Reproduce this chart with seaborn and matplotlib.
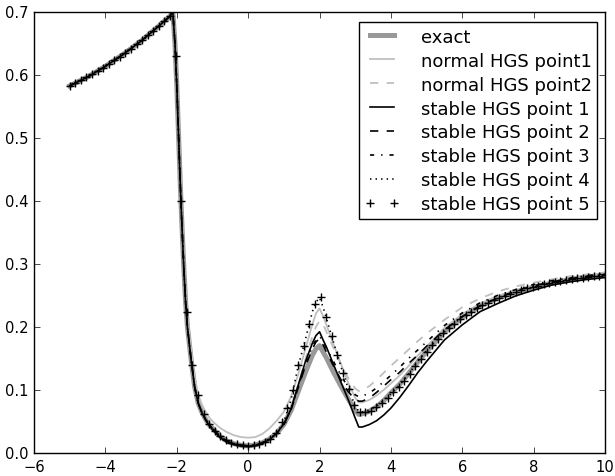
import numpy as np
import matplotlib
matplotlib.use("Agg")
import matplotlib.pyplot as plt
import seaborn as sns

plt.style.use("classic")
plt.rcParams["figure.facecolor"] = "white"
plt.rcParams["savefig.facecolor"] = "white"
plt.rcParams["font.family"] = ["DejaVu Sans"]

x_line = [-5, -4.5, -4, -3.5, -3, -2.5, -2.3, -2.2, -2.11, -2.05, -2.0, -1.95, -1.9, -1.85,
          -1.8, -1.75, -1.7, -1.6, -1.5, -1.4, -1.3, -1.2, -1.1, -1.0, -0.8, -0.6, -0.4, -0.2,
          0, 0.2, 0.4, 0.6, 0.8, 1.0, 1.2, 1.4, 1.6, 1.8, 1.9, 2.0, 2.1, 2.2, 2.4, 2.6, 2.8,
          3.0, 3.1, 3.2, 3.4, 3.6, 3.8, 4.0, 4.25, 4.5, 4.75, 5.0, 5.5, 6.0, 6.5, 7.0, 7.5,
          8.0, 8.5, 9.0, 9.5, 10.0]

y_exact = [0.583, 0.597, 0.614, 0.633, 0.654, 0.678, 0.688, 0.693, 0.700, 0.650, 0.585,
           0.505, 0.425, 0.355, 0.292, 0.238, 0.200, 0.150, 0.106, 0.080, 0.066, 0.055,
           0.046, 0.040, 0.028, 0.020, 0.0155, 0.013, 0.012, 0.0135, 0.017, 0.023, 0.032,
           0.046, 0.068, 0.098, 0.128, 0.156, 0.166, 0.171, 0.161, 0.151, 0.128, 0.107,
           0.087, 0.068, 0.062, 0.063, 0.067, 0.074, 0.084, 0.096, 0.110, 0.127, 0.145,
           0.162, 0.193, 0.216, 0.234, 0.247, 0.256, 0.264, 0.270, 0.276, 0.280, 0.283]

y_normal1 = [0.583, 0.597, 0.614, 0.633, 0.654, 0.678, 0.688, 0.693, 0.700, 0.655, 0.592,
             0.515, 0.437, 0.368, 0.305, 0.252, 0.213, 0.165, 0.121, 0.094, 0.078, 0.067,
             0.058, 0.051, 0.041, 0.034, 0.029, 0.026, 0.025, 0.026, 0.031, 0.040, 0.052,
             0.066, 0.090, 0.125, 0.165, 0.205, 0.222, 0.230, 0.218, 0.203, 0.172, 0.142,
             0.113, 0.088, 0.081, 0.081, 0.085, 0.092, 0.101, 0.111, 0.124, 0.139, 0.155,
             0.170, 0.199, 0.221, 0.238, 0.250, 0.259, 0.266, 0.272, 0.277, 0.281, 0.284]

y_normal2 = [0.583, 0.597, 0.614, 0.633, 0.654, 0.678, 0.688, 0.693, 0.700, 0.650, 0.585,
             0.505, 0.425, 0.355, 0.292, 0.238, 0.200, 0.150, 0.106, 0.080, 0.066, 0.055,
             0.046, 0.040, 0.028, 0.020, 0.0155, 0.013, 0.012, 0.0135, 0.017, 0.023, 0.033,
             0.048, 0.072, 0.108, 0.148, 0.186, 0.201, 0.210, 0.205, 0.192, 0.166, 0.142,
             0.120, 0.103, 0.099, 0.100, 0.107, 0.117, 0.128, 0.139, 0.152, 0.165, 0.178,
             0.190, 0.212, 0.232, 0.246, 0.257, 0.265, 0.271, 0.276, 0.281, 0.284, 0.287]

y_stable1 = [0.583, 0.597, 0.614, 0.633, 0.654, 0.678, 0.688, 0.693, 0.700, 0.650, 0.585,
             0.505, 0.425, 0.355, 0.292, 0.238, 0.200, 0.150, 0.106, 0.080, 0.065, 0.054,
             0.045, 0.038, 0.026, 0.018, 0.014, 0.0115, 0.011, 0.012, 0.016, 0.022, 0.032,
             0.047, 0.070, 0.108, 0.145, 0.175, 0.187, 0.193, 0.180, 0.168, 0.140, 0.113,
             0.086, 0.056, 0.042, 0.042, 0.046, 0.052, 0.061, 0.072, 0.089, 0.108, 0.128,
             0.146, 0.180, 0.204, 0.225, 0.238, 0.250, 0.259, 0.267, 0.272, 0.276, 0.279]

y_stable2 = [0.583, 0.597, 0.614, 0.633, 0.654, 0.678, 0.688, 0.693, 0.700, 0.650, 0.585,
             0.505, 0.425, 0.355, 0.292, 0.238, 0.200, 0.150, 0.106, 0.080, 0.066, 0.055,
             0.046, 0.040, 0.028, 0.020, 0.0155, 0.013, 0.012, 0.0135, 0.017, 0.023, 0.032,
             0.046, 0.069, 0.104, 0.138, 0.166, 0.177, 0.182, 0.172, 0.160, 0.138, 0.117,
             0.098, 0.086, 0.083, 0.083, 0.088, 0.097, 0.107, 0.117, 0.129, 0.143, 0.156,
             0.170, 0.196, 0.217, 0.234, 0.247, 0.258, 0.266, 0.272, 0.277, 0.281, 0.284]

y_stable3 = [0.583, 0.597, 0.614, 0.633, 0.654, 0.678, 0.688, 0.693, 0.700, 0.650, 0.585,
             0.505, 0.425, 0.355, 0.292, 0.238, 0.200, 0.150, 0.106, 0.080, 0.066, 0.055,
             0.046, 0.040, 0.028, 0.020, 0.0155, 0.013, 0.012, 0.0135, 0.017, 0.023, 0.032,
             0.046, 0.070, 0.106, 0.140, 0.170, 0.180, 0.186, 0.178, 0.166, 0.145, 0.124,
             0.105, 0.093, 0.090, 0.091, 0.096, 0.104, 0.114, 0.124, 0.137, 0.151, 0.164,
             0.177, 0.203, 0.223, 0.239, 0.251, 0.260, 0.268, 0.274, 0.278, 0.282, 0.285]

y_stable4 = [0.583, 0.597, 0.614, 0.633, 0.654, 0.678, 0.688, 0.693, 0.700, 0.650, 0.585,
             0.505, 0.425, 0.355, 0.292, 0.238, 0.200, 0.150, 0.106, 0.080, 0.066, 0.055,
             0.046, 0.040, 0.028, 0.020, 0.0155, 0.013, 0.012, 0.0135, 0.017, 0.023, 0.032,
             0.050, 0.085, 0.138, 0.180, 0.225, 0.240, 0.247, 0.232, 0.213, 0.175, 0.138,
             0.104, 0.075, 0.067, 0.066, 0.069, 0.075, 0.084, 0.095, 0.109, 0.126, 0.146,
             0.163, 0.193, 0.217, 0.234, 0.247, 0.257, 0.265, 0.271, 0.277, 0.281, 0.284]

x_marks = np.linspace(-5, 10, 97)
y_stable5 = [0.583, 0.5873, 0.5917, 0.5964, 0.6014, 0.6065, 0.6119, 0.6175, 0.6233, 0.6294,
             0.6357, 0.6421, 0.6489, 0.6558, 0.6630, 0.6704, 0.6780, 0.6859, 0.6939, 0.630,
             0.400, 0.225, 0.140, 0.092, 0.063, 0.047, 0.036, 0.027, 0.021, 0.017, 0.0145,
             0.013, 0.0122, 0.0128, 0.015, 0.018, 0.023, 0.033, 0.050, 0.072, 0.100, 0.140,
             0.170, 0.205, 0.237, 0.248, 0.217, 0.186, 0.156, 0.128, 0.102, 0.077, 0.065,
             0.065, 0.068, 0.073, 0.080, 0.088, 0.097, 0.106, 0.115, 0.126, 0.138, 0.150,
             0.161, 0.172, 0.182, 0.191, 0.199, 0.206, 0.213, 0.219, 0.225, 0.230, 0.235,
             0.239, 0.243, 0.247, 0.250, 0.253, 0.256, 0.259, 0.262, 0.264, 0.266, 0.268,
             0.270, 0.272, 0.274, 0.275, 0.277, 0.278, 0.279, 0.280, 0.281, 0.282, 0.283]

labels = ["exact", "normal HGS point1", "normal HGS point2", "stable HGS point 1",
          "stable HGS point 2", "stable HGS point 3", "stable HGS point 4", "stable HGS point 5"]

fig = plt.figure(figsize=(6.15, 4.77), dpi=100)
ax = fig.add_axes([0.0553, 0.0472, 0.9285, 0.9254])

sns.lineplot(x=x_line, y=y_exact, ax=ax, color="0.6", lw=3.6, label=labels[0])
sns.lineplot(x=x_line, y=y_normal1, ax=ax, color="0.75", lw=1.3, label=labels[1])
sns.lineplot(x=x_line, y=y_normal2, ax=ax, color="0.75", lw=1.3, linestyle="--", label=labels[2])
sns.lineplot(x=x_line, y=y_stable1, ax=ax, color="black", lw=1.2, label=labels[3])
sns.lineplot(x=x_line, y=y_stable2, ax=ax, color="black", lw=1.2, linestyle="--", label=labels[4])
sns.lineplot(x=x_line, y=y_stable3, ax=ax, color="black", lw=1.2, linestyle="-.", label=labels[5])
sns.lineplot(x=x_line, y=y_stable4, ax=ax, color="black", lw=1.2, linestyle=":", label=labels[6])
sns.lineplot(x=x_marks, y=y_stable5, ax=ax, color="black", linestyle="none", marker="+",
             markersize=6, markeredgewidth=1.0, markeredgecolor="black",
             markerfacecolor="black", label=labels[7])

ax.set_xlim(-6, 10)
ax.set_ylim(0, 0.7)
ax.set_xticks([-6, -4, -2, 0, 2, 4, 6, 8, 10])
ax.set_yticks([0.0, 0.1, 0.2, 0.3, 0.4, 0.5, 0.6, 0.7])
ax.tick_params(labelsize=10.6, direction="in", top=True, right=True)
ax.set_xlabel("")
ax.set_ylabel("")

leg = ax.legend(loc="upper right", bbox_to_anchor=(0.986, 0.977), fontsize=13.0,
                frameon=True, fancybox=False, labelspacing=0.33, handlelength=1.9,
                handletextpad=1.2, borderpad=0.3, borderaxespad=0.0, numpoints=2)
leg.get_frame().set_edgecolor("black")
leg.get_frame().set_linewidth(1.0)

fig.savefig("out.png", dpi=100)
